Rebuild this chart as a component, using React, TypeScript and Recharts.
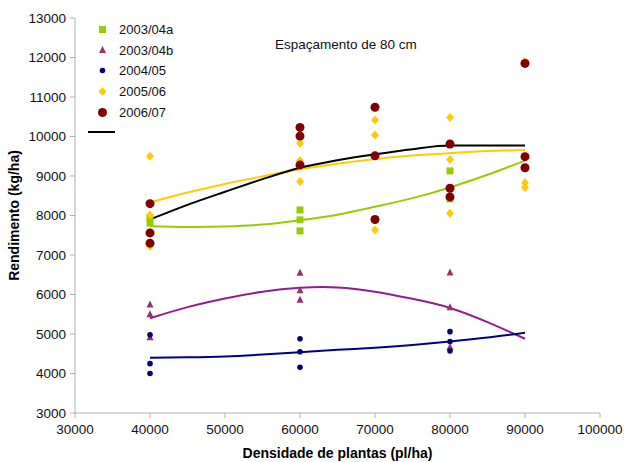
import React from 'react';
import { ComposedChart, Scatter, Line, XAxis, YAxis, Label } from 'recharts';

// observed yields (kg/ha) per planting density
const pts0304a = [
  { x: 40000, y: 7950 }, { x: 40000, y: 7810 },
  { x: 60000, y: 8140 }, { x: 60000, y: 7890 }, { x: 60000, y: 7610 },
  { x: 80000, y: 9130 }, { x: 80000, y: 8420 },
];
const pts0304b = [
  { x: 40000, y: 5750 }, { x: 40000, y: 5500 }, { x: 40000, y: 4920 },
  { x: 60000, y: 6550 }, { x: 60000, y: 6110 }, { x: 60000, y: 5870 },
  { x: 80000, y: 6560 }, { x: 80000, y: 5680 }, { x: 80000, y: 4670 },
];
const pts0405 = [
  { x: 40000, y: 4980 }, { x: 40000, y: 4250 }, { x: 40000, y: 4000 },
  { x: 60000, y: 4880 }, { x: 60000, y: 4550 }, { x: 60000, y: 4160 },
  { x: 80000, y: 5060 }, { x: 80000, y: 4810 }, { x: 80000, y: 4570 },
];
const pts0506 = [
  { x: 40000, y: 9500 }, { x: 40000, y: 8010 }, { x: 40000, y: 7220 },
  { x: 60000, y: 9830 }, { x: 60000, y: 9390 }, { x: 60000, y: 8860 },
  { x: 70000, y: 10420 }, { x: 70000, y: 10040 }, { x: 70000, y: 7630 },
  { x: 80000, y: 10480 }, { x: 80000, y: 9420 }, { x: 80000, y: 8060 },
  { x: 90000, y: 11900 }, { x: 90000, y: 8830 }, { x: 90000, y: 8710 },
];
const pts0607 = [
  { x: 40000, y: 8300 }, { x: 40000, y: 7560 }, { x: 40000, y: 7300 },
  { x: 60000, y: 10230 }, { x: 60000, y: 10010 }, { x: 60000, y: 9280 },
  { x: 70000, y: 10740 }, { x: 70000, y: 9510 }, { x: 70000, y: 7900 },
  { x: 80000, y: 9810 }, { x: 80000, y: 8690 }, { x: 80000, y: 8470 },
  { x: 90000, y: 11850 }, { x: 90000, y: 9490 }, { x: 90000, y: 9210 },
];

// trend lines, every 5000 pl/ha
const trendX = [40000, 45000, 50000, 55000, 60000, 65000, 70000, 75000, 80000, 85000, 90000];
const trend0304a = [7730, 7710, 7720, 7770, 7880, 8020, 8220, 8440, 8710, 9030, 9390];
const trend0304b = [5400, 5680, 5900, 6070, 6170, 6180, 6070, 5890, 5660, 5300, 4880];
const trend0405 = [4400, 4410, 4430, 4480, 4540, 4600, 4650, 4720, 4810, 4910, 5030];
const trend0506 = [8330, 8580, 8800, 8990, 9170, 9310, 9430, 9520, 9580, 9630, 9660];
const trend0607 = [7900, 8270, 8600, 8920, 9210, 9400, 9550, 9680, 9770, 9770, 9770];

const xTicks = [30000, 40000, 50000, 60000, 70000, 80000, 90000, 100000];
const yTicks = [3000, 4000, 5000, 6000, 7000, 8000, 9000, 10000, 11000, 12000, 13000];

const legendNames = ['2003/04a', '2003/04b', '2004/05', '2005/06', '2006/07'];

const GREEN = '#99CC00';
const PURPLE_PT = '#993366';
const PURPLE_LN = '#8E1F8E';
const NAVY = '#000080';
const YELLOW = '#FFCC00';
const DARKRED = '#800000';

const toLine = (ys: number[]) => trendX.map((x, i) => ({ x, y: ys[i] }));

const Square = (p: any) => <rect x={p.cx - 3.5} y={p.cy - 3.5} width={7} height={7} fill={GREEN} />;
const Tri = (p: any) => (
  <polygon points={`${p.cx},${p.cy - 4} ${p.cx + 3.5},${p.cy + 3} ${p.cx - 3.5},${p.cy + 3}`} fill={PURPLE_PT} />
);
const Dot = (p: any) => <circle cx={p.cx} cy={p.cy} r={2.8} fill={NAVY} />;
const Diamond = (p: any) => (
  <polygon points={`${p.cx},${p.cy - 4.5} ${p.cx + 4},${p.cy} ${p.cx},${p.cy + 4.5} ${p.cx - 4},${p.cy}`} fill={YELLOW} />
);
const BigDot = (p: any) => <circle cx={p.cx} cy={p.cy} r={4.5} fill={DARKRED} />;

const legendIcons = [
  <rect x={3} y={3} width={7} height={7} fill={GREEN} />,
  <polygon points="6.5,2 10,9 3,9" fill={PURPLE_PT} />,
  <circle cx={6.5} cy={6.5} r={2.8} fill={NAVY} />,
  <polygon points="6.5,2 10.5,6.5 6.5,11 2.5,6.5" fill={YELLOW} />,
  <circle cx={6.5} cy={6.5} r={4.5} fill={DARKRED} />,
];

const FONT = '"Liberation Sans", Arial, sans-serif';

export default function App() {
  return (
    <div style={{ position: 'absolute', left: 0, top: 0, width: 629, height: 462, background: '#fff', fontFamily: FONT }}>
      <ComposedChart width={629} height={462} margin={{ top: 18, right: 29, bottom: 19, left: 0 }}>
        <XAxis
          type="number"
          dataKey="x"
          domain={[30000, 100000]}
          ticks={xTicks}
          allowDataOverflow
          stroke="#B0B0B0"
          tickSize={5}
          tickMargin={6}
          height={30}
          tick={{ fill: '#111', fontSize: 13.5, fontFamily: FONT }}
        >
          <Label
            value="Densidade de plantas (pl/ha)"
            position="bottom"
            offset={5}
            style={{ fontWeight: 'bold', fontSize: 14, fill: '#000', fontFamily: FONT }}
          />
        </XAxis>
        <YAxis
          type="number"
          dataKey="y"
          domain={[3000, 13000]}
          ticks={yTicks}
          allowDataOverflow
          width={75}
          stroke="#B0B0B0"
          tickSize={5}
          tickMargin={4}
          tick={{ fill: '#111', fontSize: 13.5, fontFamily: FONT }}
        >
          <Label
            value="Rendimento (kg/ha)"
            angle={-90}
            position="insideLeft"
            offset={14}
            style={{ textAnchor: 'middle', fontWeight: 'bold', fontSize: 14, fill: '#000', fontFamily: FONT }}
          />
        </YAxis>

        <Scatter data={pts0304a} shape={Square} isAnimationActive={false} />
        <Scatter data={pts0304b} shape={Tri} isAnimationActive={false} />
        <Scatter data={pts0405} shape={Dot} isAnimationActive={false} />
        <Scatter data={pts0506} shape={Diamond} isAnimationActive={false} />
        <Scatter data={pts0607} shape={BigDot} isAnimationActive={false} />

        <Line data={toLine(trend0304a)} dataKey="y" type="natural" stroke={GREEN} strokeWidth={2} dot={false} isAnimationActive={false} />
        <Line data={toLine(trend0304b)} dataKey="y" type="natural" stroke={PURPLE_LN} strokeWidth={2} dot={false} isAnimationActive={false} />
        <Line data={toLine(trend0405)} dataKey="y" type="natural" stroke={NAVY} strokeWidth={2} dot={false} isAnimationActive={false} />
        <Line data={toLine(trend0506)} dataKey="y" type="natural" stroke={YELLOW} strokeWidth={2} dot={false} isAnimationActive={false} />
        <Line data={toLine(trend0607)} dataKey="y" type="monotone" stroke="#000" strokeWidth={2} dot={false} isAnimationActive={false} />
      </ComposedChart>

      <div style={{ position: 'absolute', left: 96, top: 19, fontSize: 13, color: '#111' }}>
        {legendNames.map((n, i) => (
          <div key={n} style={{ display: 'flex', alignItems: 'center', height: 20.8 }}>
            <svg width={13} height={13} style={{ marginRight: 10 }}>{legendIcons[i]}</svg>
            <span>{n}</span>
          </div>
        ))}
        <svg width={30} height={6} style={{ position: 'absolute', left: -8, top: 110 }}>
          <line x1={0} y1={3} x2={27} y2={3} stroke="#000" strokeWidth={2} />
        </svg>
      </div>

      <div style={{ position: 'absolute', left: 275, top: 37, fontSize: 13.5, color: '#111' }}>
        Espaçamento de 80 cm
      </div>
    </div>
  );
}
